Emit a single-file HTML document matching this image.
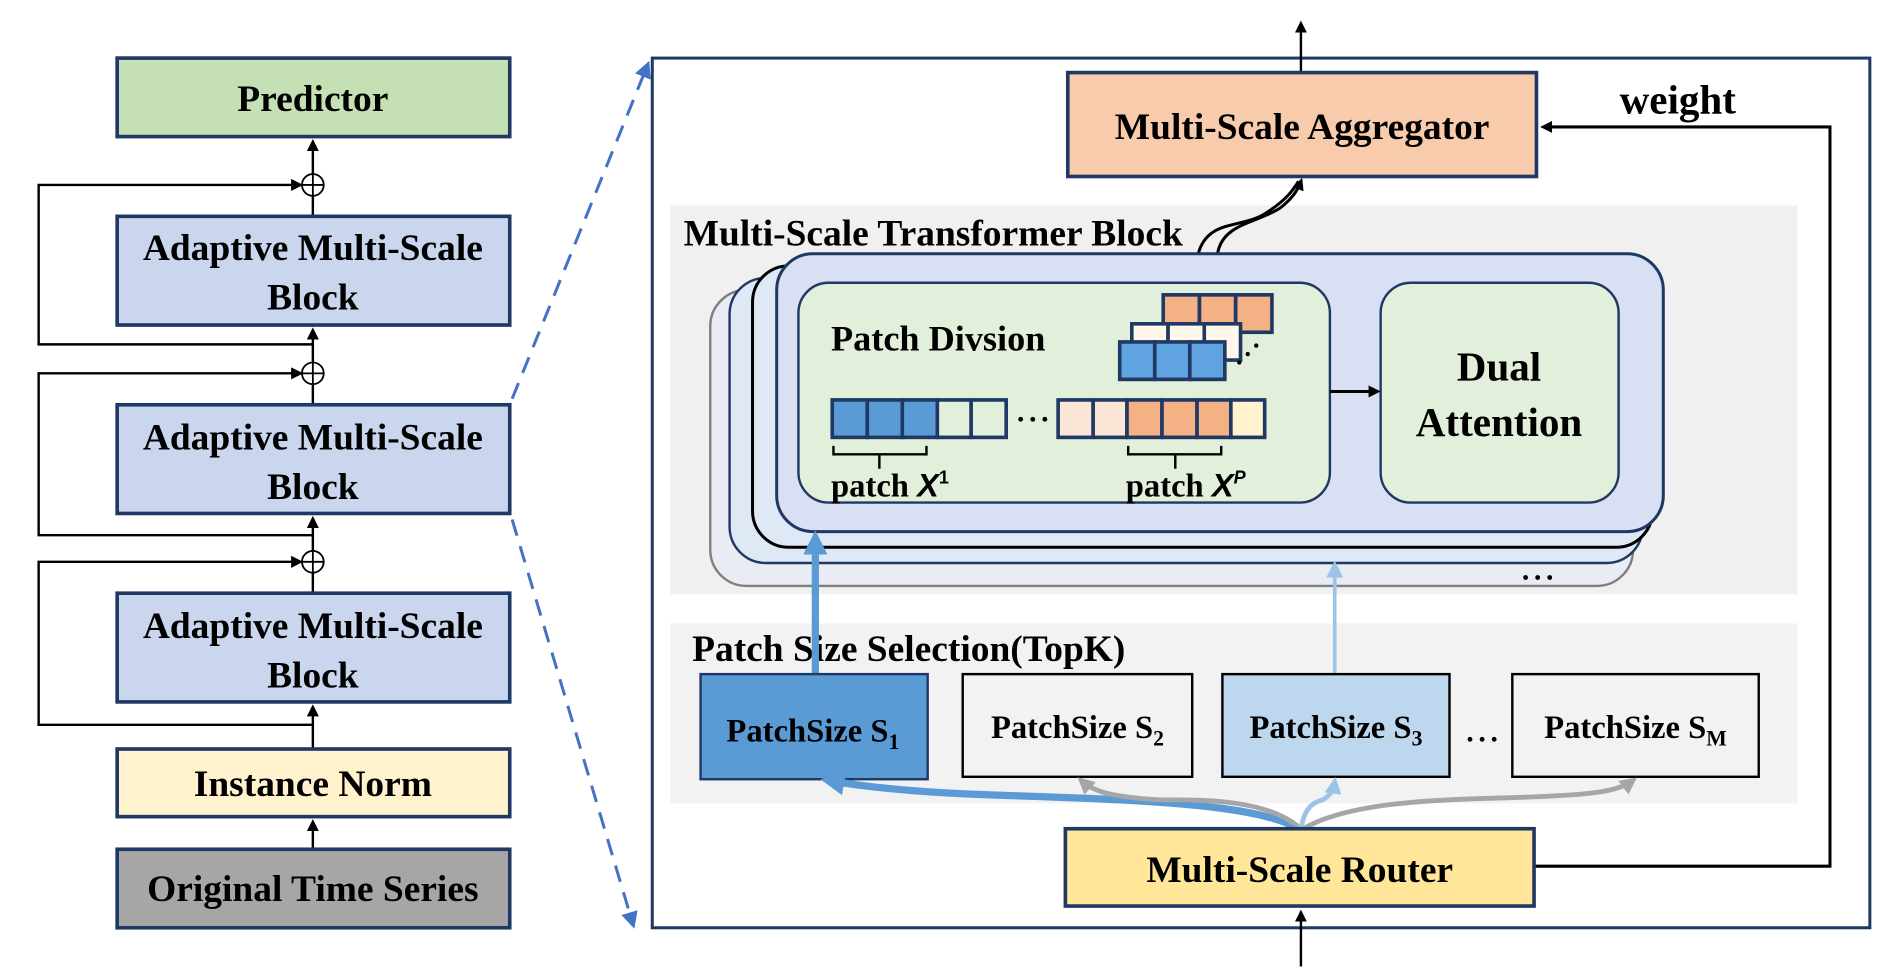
<!DOCTYPE html>
<html><head><meta charset="utf-8"><style>html,body{margin:0;padding:0;background:#fff}svg{display:block}text{font-family:"Liberation Serif",serif;font-weight:bold;fill:#000}</style></head><body>
<svg width="1894" height="975" viewBox="0 0 1568 807" xmlns="http://www.w3.org/2000/svg">
<defs>
<marker id="ah" markerWidth="10" markerHeight="10" refX="7" refY="5" orient="auto" markerUnits="userSpaceOnUse"><path d="M0,0 L10,5 L0,10 z" fill="#000"/></marker>
<marker id="ahb" markerWidth="14" markerHeight="14" refX="10" refY="7" orient="auto" markerUnits="userSpaceOnUse"><path d="M0,0 L14,7 L0,14 z" fill="#4472c4"/></marker>
<marker id="ab1" markerWidth="20" markerHeight="20" refX="14" refY="10" orient="auto" markerUnits="userSpaceOnUse"><path d="M0,0 L20,10 L0,20 z" fill="#5b9bd5"/></marker>
<marker id="ab3" markerWidth="14" markerHeight="14" refX="10" refY="7" orient="auto" markerUnits="userSpaceOnUse"><path d="M0,0 L14,7 L0,14 z" fill="#9dc3e6"/></marker>
<marker id="ag" markerWidth="14" markerHeight="14" refX="10" refY="7" orient="auto" markerUnits="userSpaceOnUse"><path d="M0,0 L14,7 L0,14 z" fill="#a6a6a6"/></marker>
</defs>
<g stroke="#000" stroke-width="2" fill="none">
<path d="M259,144 V118" marker-end="url(#ah)"/>
<path d="M259,179 V162"/>
<path d="M259,300 V274" marker-end="url(#ah)"/>
<path d="M259,335 V318"/>
<path d="M259,456 V430" marker-end="url(#ah)"/>
<path d="M259,491 V474"/>
<path d="M259,620 V586" marker-end="url(#ah)"/>
<path d="M259,703 V681" marker-end="url(#ah)"/>
<path d="M259,285 H32 V153 H248" marker-end="url(#ah)"/>
<path d="M259,443 H32 V309 H248" marker-end="url(#ah)"/>
<path d="M259,600 H32 V465 H248" marker-end="url(#ah)"/>
</g>
<g fill="#fff" stroke="#000" stroke-width="1.5">
<circle cx="259" cy="153" r="9"/><circle cx="259" cy="309" r="9"/><circle cx="259" cy="465" r="9"/>
</g>
<g stroke="#000" stroke-width="1.5"><path d="M250,153h18M259,144v18M250,309h18M259,300v18M250,465h18M259,456v18"/></g>
<g stroke="#1f3864" stroke-width="3">
<rect x="97" y="48" width="325" height="65" fill="#c5e0b4"/>
<rect x="97" y="179" width="325" height="90" fill="#c9d6ee"/>
<rect x="97" y="335" width="325" height="90" fill="#c9d6ee"/>
<rect x="97" y="491" width="325" height="90" fill="#c9d6ee"/>
<rect x="97" y="620" width="325" height="56" fill="#fff2cc"/>
<rect x="97" y="703" width="325" height="65" fill="#a6a6a6"/>
</g>
<g font-size="31" text-anchor="middle">
<text x="259" y="92">Predictor</text>
<text x="259" y="215">Adaptive Multi-Scale</text><text x="259" y="256">Block</text>
<text x="259" y="372">Adaptive Multi-Scale</text><text x="259" y="413">Block</text>
<text x="259" y="528">Adaptive Multi-Scale</text><text x="259" y="569">Block</text>
<text x="259" y="659">Instance Norm</text>
<text x="259" y="746">Original Time Series</text>
</g>
<g stroke="#4472c4" stroke-width="2.5" stroke-dasharray="14,9" fill="none">
<path d="M424,330 L536,54" marker-end="url(#ahb)"/>
<path d="M424,430 L524,765" marker-end="url(#ahb)"/>
</g>
<rect x="540" y="48" width="1008" height="720" fill="#fff" stroke="#1f3864" stroke-width="2.5"/>
<path d="M1077,60 V20" stroke="#000" stroke-width="2" marker-end="url(#ah)"/>
<path d="M1077,800 V756" stroke="#000" stroke-width="2" marker-end="url(#ah)"/>
<path d="M1270,717 H1515 V105 H1278" stroke="#000" stroke-width="2.5" fill="none" marker-end="url(#ah)"/>
<text x="1389" y="94" font-size="34" text-anchor="middle">weight</text>
<rect x="884" y="60" width="388" height="86" fill="#f8cbad" stroke="#1f3864" stroke-width="3"/>
<text x="1078" y="115" font-size="31" text-anchor="middle">Multi-Scale Aggregator</text>
<rect x="555" y="170" width="933" height="322" fill="#f0f0f0"/>
<text x="566" y="203" font-size="31">Multi-Scale Transformer Block</text>
<g stroke="#000" stroke-width="2.5" fill="none">
<path d="M992,210 C1000,180 1030,190 1050,175 C1065,165 1070,158 1075,150"/>
<path d="M1008,210 C1012,185 1040,185 1060,172 C1070,164 1074,158 1077,150" marker-end="url(#ah)"/>
</g>
<rect x="588" y="240" width="764" height="245" rx="30" fill="#eaecf3" stroke="#7f7f7f" stroke-width="2"/>
<rect x="604" y="230" width="756" height="236" rx="30" fill="#dfe9f5" stroke="#1f3864" stroke-width="2"/>
<rect x="623" y="220" width="745" height="233" rx="30" fill="#dfe9f5" stroke="#000" stroke-width="2.5"/>
<rect x="643" y="210" width="734" height="230" rx="30" fill="#dae0f3" stroke="#1f3864" stroke-width="2.5"/>
<rect x="661" y="234" width="440" height="182" rx="25" fill="#e2efda" stroke="#1f3864" stroke-width="2"/>
<rect x="1143" y="234" width="197" height="182" rx="25" fill="#e2efda" stroke="#1f3864" stroke-width="2"/>
<path d="M1101,324 H1140" stroke="#000" stroke-width="2.5" marker-end="url(#ah)"/>
<text x="1241" y="315" font-size="34" text-anchor="middle">Dual</text>
<text x="1241" y="361" font-size="34" text-anchor="middle">Attention</text>
<text x="688" y="290" font-size="30">Patch Divsion</text>
<g stroke="#1f3864" stroke-width="3">
<rect x="963" y="244" width="30" height="31" fill="#f4b183"/><rect x="993" y="244" width="30" height="31" fill="#f4b183"/><rect x="1023" y="244" width="30" height="31" fill="#f4b183"/>
<rect x="937" y="268" width="30" height="30" fill="#fff8ea"/><rect x="967" y="268" width="30" height="30" fill="#fff8ea"/><rect x="997" y="268" width="30" height="30" fill="#fff8ea"/>
<rect x="927" y="283" width="29" height="31" fill="#5fa3e0"/><rect x="956" y="283" width="29" height="31" fill="#5fa3e0"/><rect x="985" y="283" width="29" height="31" fill="#5fa3e0"/>
<rect x="689" y="331" width="29" height="31" fill="#5b9bd5"/><rect x="718" y="331" width="29" height="31" fill="#5b9bd5"/><rect x="747" y="331" width="29" height="31" fill="#5b9bd5"/><rect x="776" y="331" width="28" height="31" fill="#e2efda"/><rect x="804" y="331" width="29" height="31" fill="#e2efda"/>
<rect x="876" y="331" width="29" height="31" fill="#fbe5d6"/><rect x="905" y="331" width="28" height="31" fill="#fbe5d6"/><rect x="933" y="331" width="29" height="31" fill="#f4b183"/><rect x="962" y="331" width="29" height="31" fill="#f4b183"/><rect x="991" y="331" width="28" height="31" fill="#f4b183"/><rect x="1019" y="331" width="28" height="31" fill="#fff2cc"/>
</g>
<g fill="#000"><circle cx="845" cy="347" r="2"/><circle cx="855" cy="347" r="2"/><circle cx="865" cy="347" r="2"/>
<circle cx="1026" cy="300" r="1.8"/><circle cx="1033" cy="293" r="1.8"/><circle cx="1040" cy="286" r="1.8"/>
<circle cx="1263" cy="478" r="2"/><circle cx="1273" cy="478" r="2"/><circle cx="1283" cy="478" r="2"/></g>
<g stroke="#000" stroke-width="2" fill="none"><path d="M690,369 V376 H767 V369 M728,376 V388"/><path d="M934,369 V376 H1011 V369 M973,376 V388"/></g>
<text x="688" y="411" font-size="27">patch <tspan font-family="Liberation Sans" font-style="italic">X</tspan><tspan font-size="15" dy="-11" font-family="Liberation Sans">1</tspan></text>
<text x="932" y="411" font-size="27">patch <tspan font-family="Liberation Sans" font-style="italic">X</tspan><tspan font-size="15" dy="-11" font-family="Liberation Sans" font-style="italic">P</tspan></text>
<rect x="555" y="516" width="933" height="149" fill="#f2f2f2"/>
<text x="573" y="547" font-size="31">Patch Size Selection(TopK)</text>
<path d="M675,558 V445" stroke="#5b9bd5" stroke-width="6" marker-end="url(#ab1)"/>
<path d="M1105,558 V468" stroke="#9dc3e6" stroke-width="3" marker-end="url(#ab3)"/>
<rect x="580" y="558" width="188" height="87" fill="#5b9bd5" stroke="#1f3864" stroke-width="2"/>
<rect x="797" y="558" width="190" height="85" fill="#f2f2f2" stroke="#000" stroke-width="2"/>
<rect x="1012" y="558" width="188" height="85" fill="#bdd7ee" stroke="#000" stroke-width="2"/>
<rect x="1252" y="558" width="204" height="85" fill="#f2f2f2" stroke="#000" stroke-width="2"/>
<g font-size="27" text-anchor="middle">
<text x="673" y="614">PatchSize S<tspan font-size="18" dy="6">1</tspan></text>
<text x="892" y="611">PatchSize S<tspan font-size="18" dy="6">2</tspan></text>
<text x="1106" y="611">PatchSize S<tspan font-size="18" dy="6">3</tspan></text>
<text x="1354" y="611">PatchSize S<tspan font-size="18" dy="6">M</tspan></text>
</g>
<g fill="#000"><circle cx="1217" cy="612" r="2"/><circle cx="1227" cy="612" r="2"/><circle cx="1237" cy="612" r="2"/></g>
<g fill="none">
<path d="M1075,686 C1040,665 940,662 820,658 C760,656 720,652 685,646" stroke="#5b9bd5" stroke-width="6" marker-end="url(#ab1)"/>
<path d="M1077,686 C1050,662 1000,662 960,662 C920,660 905,655 895,646" stroke="#a6a6a6" stroke-width="4" marker-end="url(#ag)"/>
<path d="M1079,686 C1120,662 1200,662 1260,660 C1320,658 1340,655 1352,646" stroke="#a6a6a6" stroke-width="4" marker-end="url(#ag)"/>
<path d="M1077,686 C1080,670 1085,665 1095,662 C1102,658 1104,654 1105,647" stroke="#9dc3e6" stroke-width="4" marker-end="url(#ab3)"/>
</g>
<rect x="882" y="686" width="388" height="64" fill="#ffe699" stroke="#1f3864" stroke-width="3"/>
<text x="1076" y="730" font-size="31" text-anchor="middle">Multi-Scale Router</text>
</svg>
</body></html>
